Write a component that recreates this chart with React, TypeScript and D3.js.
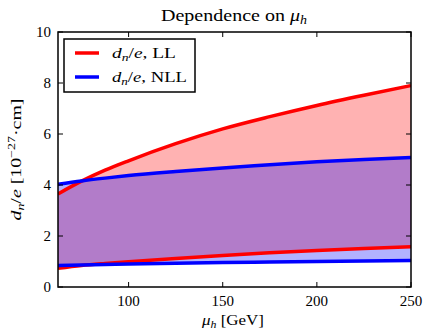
import React from 'react';
import * as d3 from 'd3';

// mu_h sample points (GeV)
const muH = [62.5, 75, 87.5, 100, 125, 150, 175, 200, 225, 250];

// LL band
const llUpper = [3.65, 4.15, 4.58, 4.95, 5.62, 6.2, 6.68, 7.12, 7.52, 7.9];
const llLower = [0.73, 0.84, 0.92, 0.99, 1.12, 1.24, 1.34, 1.43, 1.51, 1.58];

// NLL band
const nllUpper = [4.03, 4.16, 4.27, 4.37, 4.53, 4.67, 4.79, 4.91, 5.0, 5.08];
const nllLower = [0.84, 0.86, 0.88, 0.9, 0.93, 0.96, 0.98, 1.0, 1.02, 1.04];

const xTicks = [100, 150, 200, 250];
const yTicks = [0, 2, 4, 6, 8, 10];

const FONT = '"Liberation Serif", "DejaVu Serif", serif';

export default function App() {
  const W = 424;
  const H = 330;
  const margin = { top: 32, right: 13, bottom: 43, left: 58 };
  const innerW = W - margin.left - margin.right;
  const innerH = H - margin.top - margin.bottom;

  const x = d3.scaleLinear().domain([62.5, 250]).range([0, innerW]);
  const y = d3.scaleLinear().domain([0, 10]).range([innerH, 0]);

  const band = (lo: number[], hi: number[]) =>
    d3.area<number>()
      .x((_, i) => x(muH[i]))
      .y0((_, i) => y(lo[i]))
      .y1((_, i) => y(hi[i]))
      .curve(d3.curveMonotoneX)(muH) || '';

  const line = (vals: number[]) =>
    d3.line<number>()
      .x((_, i) => x(muH[i]))
      .y((_, i) => y(vals[i]))
      .curve(d3.curveMonotoneX)(muH) || '';

  const tickLen = 5;
  const lw = 3.5;

  return (
    <svg width={W} height={H} style={{ position: 'absolute', left: 0, top: 0, background: '#fff' }} fontFamily={FONT}>
      <defs>
        <clipPath id="plotclip">
          <rect x={0} y={0} width={innerW} height={innerH} />
        </clipPath>
      </defs>
      {/* title */}
      <text x={161} y={21} fontSize={16.5} fill="#000" textLength={146} lengthAdjust="spacingAndGlyphs">
        Dependence on <tspan fontStyle="italic">μ</tspan>
        <tspan fontStyle="italic" fontSize={11.5} dy={3}>h</tspan>
      </text>
      <g transform={`translate(${margin.left},${margin.top})`}>
        <g clipPath="url(#plotclip)">
          <path d={band(llLower, llUpper)} fill="rgb(255,0,0)" fillOpacity={0.3} />
          <path d={band(nllLower, nllUpper)} fill="rgb(0,0,255)" fillOpacity={0.3} />
          <path d={line(llUpper)} fill="none" stroke="#ff0000" strokeWidth={lw} />
          <path d={line(llLower)} fill="none" stroke="#ff0000" strokeWidth={lw} />
          <path d={line(nllUpper)} fill="none" stroke="#0000ff" strokeWidth={lw} />
          <path d={line(nllLower)} fill="none" stroke="#0000ff" strokeWidth={lw} />
        </g>
        {/* ticks, inward on all sides */}
        {xTicks.map(t => (
          <g key={'x' + t}>
            <line x1={x(t)} x2={x(t)} y1={innerH} y2={innerH - tickLen} stroke="#000" strokeWidth={1} />
            <line x1={x(t)} x2={x(t)} y1={0} y2={tickLen} stroke="#000" strokeWidth={1} />
            <text x={x(t)} y={innerH + 19} textAnchor="middle" fontSize={15} fill="#000">{t}</text>
          </g>
        ))}
        {yTicks.map(t => (
          <g key={'y' + t}>
            <line x1={0} x2={tickLen} y1={y(t)} y2={y(t)} stroke="#000" strokeWidth={1} />
            <line x1={innerW} x2={innerW - tickLen} y1={y(t)} y2={y(t)} stroke="#000" strokeWidth={1} />
            <text x={-7} y={y(t) + 5} textAnchor="end" fontSize={15} fill="#000">{t}</text>
          </g>
        ))}
        <rect x={0} y={0} width={innerW} height={innerH} fill="none" stroke="#000" strokeWidth={1.5} />

        {/* legend */}
        <g transform="translate(6,7)">
          <rect x={0} y={0} width={131} height={53} fill="#fff" stroke="#000" strokeWidth={1.5} />
          <line x1={11} x2={35} y1={14} y2={14} stroke="#ff0000" strokeWidth={lw} />
          <line x1={11} x2={35} y1={38} y2={38} stroke="#0000ff" strokeWidth={lw} />
          <text x={48} y={19} fontSize={15} fill="#000" textLength={64} lengthAdjust="spacingAndGlyphs">
            <tspan fontStyle="italic">d</tspan>
            <tspan fontStyle="italic" fontSize={10.5} dy={3}>n</tspan>
            <tspan dy={-3}>/</tspan><tspan fontStyle="italic">e</tspan>, LL
          </text>
          <text x={48} y={43} fontSize={15} fill="#000" textLength={75} lengthAdjust="spacingAndGlyphs">
            <tspan fontStyle="italic">d</tspan>
            <tspan fontStyle="italic" fontSize={10.5} dy={3}>n</tspan>
            <tspan dy={-3}>/</tspan><tspan fontStyle="italic">e</tspan>, NLL
          </text>
        </g>

        {/* axis labels */}
        <text x={202 - margin.left} y={innerH + 38} fontSize={15} fill="#000" textLength={62} lengthAdjust="spacingAndGlyphs">
          <tspan fontStyle="italic">μ</tspan>
          <tspan fontStyle="italic" fontSize={10.5} dy={3}>h</tspan>
          <tspan dy={-3}> [GeV]</tspan>
        </text>
        <text transform={`translate(${-37},${innerH / 2 + 61}) rotate(-90)`} fontSize={15} fill="#000" textLength={122} lengthAdjust="spacingAndGlyphs">
          <tspan fontStyle="italic">d</tspan>
          <tspan fontStyle="italic" fontSize={10.5} dy={3}>n</tspan>
          <tspan dy={-3}>/</tspan><tspan fontStyle="italic">e</tspan>
          <tspan> [10</tspan>
          <tspan fontSize={10.5} dy={-6}>−27</tspan>
          <tspan dy={6}>·cm]</tspan>
        </text>
      </g>
    </svg>
  );
}
